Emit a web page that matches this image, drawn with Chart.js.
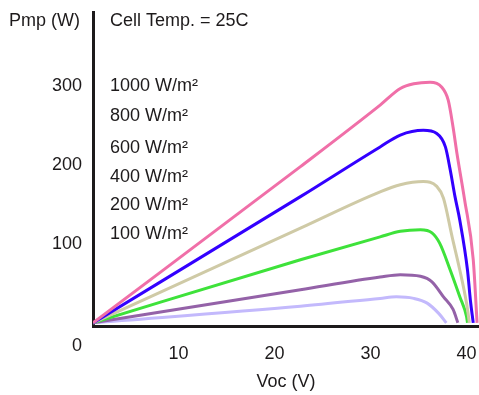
<!DOCTYPE html>
<html>
<head>
<meta charset="utf-8">
<script src="https://cdn.jsdelivr.net/npm/chart.js@4.4.0/dist/chart.umd.min.js"></script>
<style>
  html, body { margin: 0; padding: 0; background: #fff; }
  #wrap { width: 479px; height: 395px; }
</style>
</head>
<body>
<div id="wrap"><canvas id="grafico"></canvas></div>
<script>
// Curvas Pmp x Voc por irradiancia (temp. da celula 25C)
const irradiancias = ["1000 W/m²", "800 W/m²", "600 W/m²", "400 W/m²", "200 W/m²", "100 W/m²"];
const cores = ["#f06fa8", "#3300ff", "#cfcaa6", "#3ee23a", "#9462a8", "#c3b9fc"];

const v1000 = [1.1, 22.7, 31.0, 33.1, 34.5, 36.2, 37.4, 38.1, 38.6, 39.0, 39.8, 40.7, 41.1];
const p1000 = [0, 198, 276, 297, 303, 305, 299, 282, 248, 215, 156, 80, 0];

const v800 = [1.1, 22.7, 31.0, 33.1, 35.5, 36.9, 37.8, 38.3, 38.8, 39.3, 40.1, 40.4, 40.7];
const p800 = [0, 160, 223, 238, 244, 240, 223, 194, 160, 130, 67, 29, 0];

const v600 = [1.1, 22.7, 31.0, 33.1, 35.5, 36.9, 37.6, 38.5, 39.3, 40.0, 40.3];
const p600 = [0, 120, 166, 175, 179, 173, 158, 109, 67, 25, 0];

const v400 = [1.1, 22.7, 31.0, 33.1, 35.2, 36.4, 37.2, 38.3, 39.3, 40.0, 40.1];
const p400 = [0, 80, 109, 116, 118, 114, 101, 67, 33, 8, 0];

const v200 = [1.1, 22.7, 31.0, 33.1, 35.2, 36.4, 37.6, 38.6, 39.1];
const p200 = [0, 42, 58, 61, 59, 52, 33, 17, 0];

const v100 = [1.1, 22.7, 31.0, 32.7, 34.5, 35.9, 37.1, 37.9];
const p100 = [0, 21, 31, 33, 31, 25, 12, 0];

const voltagens = [v1000, v800, v600, v400, v200, v100];
const potencias = [p1000, p800, p600, p400, p200, p100];

const ticksX = [10, 20, 30, 40];
const ticksY = [100, 200, 300];
const rotuloZero = "0";
const tituloY = "Pmp (W)";
const tituloX = "Voc (V)";
const notaTemp = "Cell Temp. = 25C";

const fonte = "'Liberation Sans', Arial, Helvetica, sans-serif";
const corTexto = "#1d1a1b";

const datasets = irradiancias.map((nome, i) => ({
  label: nome,
  data: voltagens[i].map((v, j) => ({ x: v, y: potencias[i][j] })),
  borderColor: cores[i],
  borderWidth: 3,
  pointRadius: 0,
  fill: false,
  cubicInterpolationMode: "monotone"
}));

// textos soltos: titulo do eixo Y, nota de temperatura, rotulos das curvas e o "0"
const textos = {
  id: "textos",
  afterDraw(chart) {
    const ctx = chart.ctx;
    const y = chart.scales.y;
    ctx.save();
    ctx.fillStyle = corTexto;
    ctx.font = "18px " + fonte;
    ctx.textBaseline = "middle";
    ctx.textAlign = "left";
    ctx.fillText(tituloY, 9, 21);
    ctx.fillText(notaTemp, 110, 21);
    const linhas = [86, 116, 148, 177, 205, 234];
    irradiancias.forEach((nome, i) => ctx.fillText(nome, 110, linhas[i]));
    ctx.textAlign = "right";
    ctx.fillText(rotuloZero, y.right - 11, y.getPixelForValue(0) + 23);
    ctx.restore();
  }
};

new Chart(document.getElementById("grafico"), {
  type: "line",
  data: { datasets },
  plugins: [textos],
  options: {
    responsive: true,
    maintainAspectRatio: false,
    animation: false,
    layout: { padding: { left: 0, right: 0, top: 12, bottom: 0 } },
    plugins: { legend: { display: false }, tooltip: { enabled: false } },
    scales: {
      x: {
        type: "linear",
        min: 1.09,
        max: 41.3,
        afterBuildTicks: s => { s.ticks = ticksX.map(v => ({ value: v })); },
        afterFit: s => { s.height = 69; s.paddingLeft = 0; s.paddingRight = 0; },
        grid: { display: false, drawTicks: false },
        border: { display: true, width: 3, color: corTexto },
        ticks: { padding: 17, maxRotation: 0, autoSkip: false, color: corTexto, font: { family: fonte, size: 18 } },
        title: { display: true, text: tituloX, color: corTexto, font: { family: fonte, size: 18 }, padding: { top: 0, bottom: 2 } }
      },
      y: {
        min: -4,
        max: 394,
        afterBuildTicks: s => { s.ticks = ticksY.map(v => ({ value: v })); },
        afterFit: s => { s.width = 93; s.paddingTop = 0; s.paddingBottom = 0; },
        grid: { display: false, drawTicks: false },
        border: { display: true, width: 3, color: corTexto },
        ticks: { padding: 11, color: corTexto, font: { family: fonte, size: 18 } }
      }
    }
  }
});
</script>
</body>
</html>
